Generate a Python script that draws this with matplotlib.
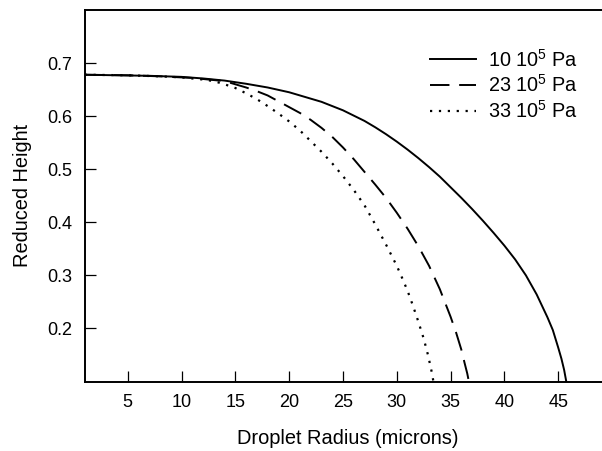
import matplotlib
matplotlib.use("Agg")
import matplotlib.pyplot as plt

# ---- data ----
x_10 = [1, 4, 7, 10, 12, 14, 16, 18, 20, 21, 22, 23, 24, 25, 26, 27, 28, 29, 30,
        31, 32, 33, 34, 35, 36, 37, 38, 39, 40, 41, 42, 43, 44, 44.5, 45, 45.3,
        45.55, 45.75]
y_10 = [0.678, 0.677, 0.676, 0.674, 0.671, 0.667, 0.661, 0.654, 0.645, 0.639,
        0.633, 0.627, 0.619, 0.611, 0.601, 0.591, 0.579, 0.566, 0.552,
        0.537, 0.521, 0.504, 0.486, 0.466, 0.446, 0.425, 0.403, 0.380, 0.356,
        0.330, 0.300, 0.264, 0.221, 0.197, 0.164, 0.143, 0.122, 0.1]

x_23 = [1, 5, 8, 11, 13, 14, 15, 16, 17, 18, 19, 20, 21, 22, 23, 24, 25, 26, 27,
        28, 29, 30, 31, 32, 33, 34, 35, 35.5, 36, 36.3, 36.55, 36.7]
y_23 = [0.678, 0.677, 0.675, 0.672, 0.668, 0.666, 0.660, 0.654, 0.647, 0.639,
        0.628, 0.617, 0.606, 0.593, 0.578, 0.561, 0.541, 0.519, 0.495,
        0.471, 0.446, 0.418, 0.388, 0.355, 0.318, 0.274, 0.222, 0.193, 0.160,
        0.135, 0.115, 0.1]

x_33 = [1, 5, 8, 10, 12, 13, 14, 15, 16, 17, 18, 19, 20, 21, 22, 23, 24, 25, 26,
        27, 28, 29, 30, 30.5, 31, 31.5, 32, 32.5, 32.9, 33.15, 33.3, 33.4]
y_33 = [0.678, 0.677, 0.675, 0.673, 0.669, 0.666, 0.660, 0.653, 0.643, 0.632,
        0.619, 0.605, 0.590, 0.573, 0.553, 0.533, 0.511, 0.487, 0.461,
        0.432, 0.396, 0.358, 0.318, 0.295, 0.271, 0.243, 0.213, 0.181, 0.150,
        0.127, 0.113, 0.1]

labels = [r"10 10$^{\mathrm{5}}$ Pa", r"23 10$^{\mathrm{5}}$ Pa", r"33 10$^{\mathrm{5}}$ Pa"]
x_ticks = [5, 10, 15, 20, 25, 30, 35, 40, 45]
y_ticks = [0.2, 0.3, 0.4, 0.5, 0.6, 0.7]

plt.rcParams['font.family'] = ['Liberation Sans', 'DejaVu Sans']
plt.rcParams['mathtext.fontset'] = 'custom'
plt.rcParams['mathtext.rm'] = 'Liberation Sans'
plt.rcParams['mathtext.it'] = 'Liberation Sans:italic'
plt.rcParams['mathtext.bf'] = 'Liberation Sans:bold'
plt.rcParams['lines.scale_dashes'] = False

W, H = 602, 451
fig = plt.figure(figsize=(W / 100, H / 100), dpi=100)
left, right, top, bottom = 84.7, 612.0, 10.0, 381.5
ax = fig.add_axes([left / W, 1 - bottom / H, (right - left) / W, (bottom - top) / H])

lw = 1.4
ax.plot(x_10, y_10, color='black', lw=lw, linestyle='-', label=labels[0])
ax.plot(x_23, y_23, color='black', lw=lw, linestyle=(0, (14, 7)), label=labels[1])
ax.plot(x_33, y_33, color='black', lw=1.6, linestyle=(0, (1.6, 4.8)), label=labels[2])

ax.set_xlim(1, 50)
ax.set_ylim(0.1, 0.8)
ax.set_xticks(x_ticks)
ax.set_xticklabels([str(v) for v in x_ticks])
ax.set_yticks(y_ticks)
ax.set_yticklabels([f"{v:.1f}" for v in y_ticks])
ax.tick_params(direction='in', length=8, width=0.9, labelsize=13, pad=9,
               top=False, right=False)
for s in ax.spines.values():
    s.set_linewidth(1.4)

ax.set_xlabel("Droplet Radius (microns)", fontsize=14.4)
ax.set_ylabel("Reduced Height", fontsize=14.4)
aw = right - left
ah = bottom - top
ax.xaxis.set_label_coords((347.5 - left) / aw, -(429 - bottom) / ah)
ax.yaxis.set_label_coords((31.7 - left) / aw, 0.5)

leg = ax.legend(loc='upper left', bbox_to_anchor=(430 / W, 1 - 48.5 / H),
                bbox_transform=fig.transFigure, frameon=False, fontsize=14.3,
                handlelength=2.3, handletextpad=0.6, borderpad=0,
                borderaxespad=0, labelspacing=0.2)

fig.savefig("out.png", dpi=100)
